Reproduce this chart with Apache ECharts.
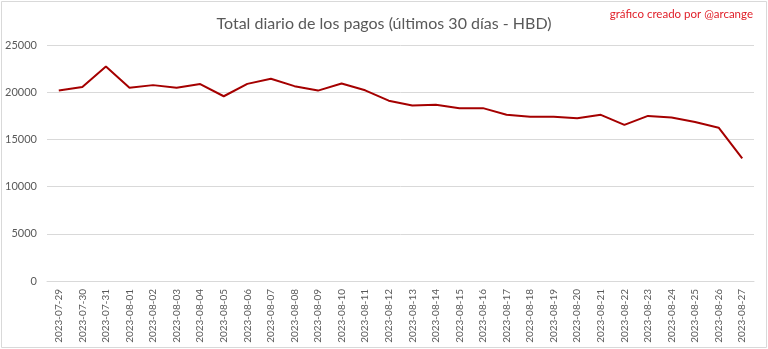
<!DOCTYPE html>
<html>
<head>
<meta charset="utf-8">
<script src="https://cdn.jsdelivr.net/npm/echarts@6/dist/echarts.min.js"></script>
<style>
html,body{margin:0;padding:0;background:#fff;}
#chart{width:768px;height:349px;}
</style>
</head>
<body>
<div id="chart"></div>
<script>
const titleText = 'Total diario de los pagos (últimos 30 días - HBD)';
const creditText = 'gráfico creado por @arcange';
const dates = ['2023-07-29','2023-07-30','2023-07-31','2023-08-01','2023-08-02','2023-08-03','2023-08-04','2023-08-05','2023-08-06','2023-08-07','2023-08-08','2023-08-09','2023-08-10','2023-08-11','2023-08-12','2023-08-13','2023-08-14','2023-08-15','2023-08-16','2023-08-17','2023-08-18','2023-08-19','2023-08-20','2023-08-21','2023-08-22','2023-08-23','2023-08-24','2023-08-25','2023-08-26','2023-08-27'];
const totals = [20170,20540,22710,20470,20750,20460,20860,19570,20880,21420,20640,20170,20920,20200,19100,18590,18680,18310,18310,17620,17410,17410,17230,17600,16540,17490,17310,16840,16240,13000];
const yTicks = [0,5000,10000,15000,20000,25000];

const chart = echarts.init(document.getElementById('chart'), null, {renderer:'canvas'});
const FONT = 'Lato';
chart.setOption({
  backgroundColor:'#ffffff',
  animation:false,
  title:[{
    text: titleText,
    left:'center',
    top:11,
    textStyle:{fontFamily:FONT,fontSize:16,fontWeight:'normal',color:'#595959'}
  },{
    text: creditText,
    right:10,
    top:3,
    textStyle:{fontFamily:FONT,fontSize:11.5,fontWeight:'normal',color:'#e0202a'}
  }],
  graphic:[{
    type:'rect',
    shape:{x:1.5,y:1.5,width:765,height:346},
    style:{fill:'none',stroke:'#d9d9d9',lineWidth:1},
    silent:true
  }],
  grid:{left:47,right:14,top:45,bottom:68,containLabel:false},
  xAxis:{
    type:'category',
    data:dates,
    boundaryGap:true,
    axisLine:{show:true,lineStyle:{color:'#d9d9d9',width:1}},
    axisTick:{show:false},
    axisLabel:{rotate:90,interval:0,margin:8,fontFamily:FONT,fontSize:10,color:'#595959'}
  },
  yAxis:{
    type:'value',
    min:yTicks[0],
    max:yTicks[yTicks.length-1],
    interval:5000,
    axisLine:{show:false},
    axisTick:{show:false},
    splitLine:{lineStyle:{color:'#d9d9d9',width:1}},
    axisLabel:{margin:10,fontFamily:FONT,fontSize:11,color:'#595959',formatter:function(v){return String(v);}}
  },
  series:[{
    type:'line',
    data:totals,
    symbol:'none',
    lineStyle:{color:'#a50000',width:2},
    itemStyle:{color:'#a50000'}
  }]
});
</script>
</body>
</html>
